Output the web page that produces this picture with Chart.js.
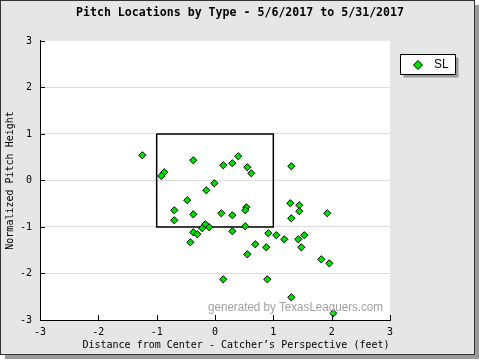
<!DOCTYPE html>
<html>
<head>
<meta charset="utf-8">
<script src="https://cdn.jsdelivr.net/npm/chart.js@4"></script>
<style>
html,body{margin:0;padding:0;background:#fff;}
#wrap{width:480px;height:360px;}
</style>
</head>
<body>
<div id="wrap"><canvas id="c" width="480" height="360"></canvas></div>
<script>
// ---- data ----
const pitchType = "SL";
const pitchX = [-1.246,-0.372,0.142,0.297,0.399,0.554,0.622,-0.869,-0.921,-0.012,
  -0.149,1.308,-0.475,-0.698,-0.372,0.108,0.297,0.537,0.519,-0.698,
  1.291,1.445,1.445,1.925,1.308,-0.166,-0.218,-0.098,0.519,-0.372,
  -0.303,0.297,-0.423,0.914,1.051,1.188,1.428,1.531,0.691,0.879,
  1.480,0.554,1.822,1.960,0.142,0.897,1.308,2.028];
const pitchY = [0.542,0.434,0.327,0.370,0.520,0.284,0.155,0.176,0.097,-0.060,
  -0.211,0.305,-0.426,-0.641,-0.727,-0.705,-0.748,-0.576,-0.641,-0.856,
  -0.490,-0.533,-0.662,-0.705,-0.813,-0.942,-1.028,-1.006,-0.985,-1.114,
  -1.157,-1.092,-1.329,-1.135,-1.178,-1.265,-1.265,-1.178,-1.372,-1.437,
  -1.437,-1.587,-1.695,-1.781,-2.125,-2.125,-2.512,-2.856];
const zoneX = [-1, 1, 1, -1, -1];
const zoneY = [1, 1, -1, -1, 1];
const xTicks = [-3, -2, -1, 0, 1, 2, 3];
const yTicks = [-3, -2, -1, 0, 1, 2, 3];
const titleText = "Pitch Locations by Type - 5/6/2017 to 5/31/2017";
const xTitle = "Distance from Center - Catcher\u2019s Perspective (feet)";
const yTitle = "Normalized Pitch Height";
const watermark = "generated by TexasLeaguers.com";

const pitchPoints = pitchX.map((x, i) => ({x: x, y: pitchY[i]}));
const zonePoints = zoneX.map((x, i) => ({x: x, y: zoneY[i]}));

const mono = "'DejaVu Sans Mono', 'Liberation Mono', monospace";

const framePlugin = {
  id: 'frame',
  beforeDraw(chart) {
    const ctx = chart.ctx, a = chart.chartArea;
    ctx.save();
    ctx.fillStyle = '#ffffff';
    ctx.fillRect(0, 0, 480, 360);
    // drop shadow
    ctx.fillStyle = '#9a9a9a';
    ctx.fillRect(5, 5, 474, 354);
    // frame
    ctx.fillStyle = '#e6e6e6';
    ctx.fillRect(0, 0, 475, 355);
    ctx.strokeStyle = '#333';
    ctx.lineWidth = 1;
    ctx.strokeRect(0.5, 0.5, 474, 354);
    // plot area
    ctx.fillStyle = '#ffffff';
    ctx.fillRect(a.left, a.top, a.right - a.left, a.bottom - a.top);
    ctx.restore();
  },
  afterDatasetsDraw(chart) {
    const ctx = chart.ctx, a = chart.chartArea;
    const xs = chart.scales.x, ys = chart.scales.y;
    ctx.save();
    // inward tick marks
    ctx.strokeStyle = '#000';
    ctx.lineWidth = 1;
    ctx.beginPath();
    xTicks.forEach(v => {
      const px = Math.round(xs.getPixelForValue(v)) + 0.5;
      ctx.moveTo(px, a.bottom);
      ctx.lineTo(px, a.bottom - 5);
    });
    yTicks.forEach(v => {
      const py = Math.round(ys.getPixelForValue(v)) + 0.5;
      ctx.moveTo(a.left, py);
      ctx.lineTo(a.left + 5, py);
    });
    ctx.stroke();
    // x axis title (centred on the frame, as in the reference)
    ctx.fillStyle = '#000';
    ctx.font = "10px " + mono;
    ctx.textAlign = 'center';
    ctx.textBaseline = 'middle';
    ctx.fillText(xTitle, 236, 345);
    // watermark
    ctx.fillStyle = '#a0a0a0';
    ctx.font = "12.5px 'Liberation Sans', Arial, sans-serif";
    ctx.textAlign = 'right';
    ctx.textBaseline = 'middle';
    ctx.fillText(watermark, a.right - 7, a.bottom - 12, 175);
    // legend box
    const lx = 400.5, ly = 54.5, lw = 55, lh = 20;
    ctx.fillStyle = '#9a9a9a';
    ctx.fillRect(lx + 3, ly + 3, lw, lh);
    ctx.fillStyle = '#fff';
    ctx.fillRect(lx, ly, lw, lh);
    ctx.strokeStyle = '#000';
    ctx.strokeRect(lx, ly, lw, lh);
    const ds = chart.data.datasets[0];
    const cx = 418, cy = 65, r = 4.5;
    ctx.beginPath();
    ctx.moveTo(cx, cy - r); ctx.lineTo(cx + r, cy); ctx.lineTo(cx, cy + r); ctx.lineTo(cx - r, cy); ctx.closePath();
    ctx.fillStyle = ds.backgroundColor;
    ctx.fill();
    ctx.strokeStyle = '#000';
    ctx.stroke();
    ctx.fillStyle = '#000';
    ctx.font = "12px 'Liberation Sans', Arial, sans-serif";
    ctx.textAlign = 'left';
    ctx.fillText(ds.label, 434, 65);
    ctx.restore();
  }
};

new Chart(document.getElementById('c'), {
  type: 'scatter',
  data: {
    datasets: [
      {
        label: pitchType,
        data: pitchPoints,
        pointStyle: 'rectRot',
        pointRadius: 3.6,
        pointHoverRadius: 3.6,
        backgroundColor: '#00e000',
        borderColor: '#000',
        borderWidth: 1
      },
      {
        label: 'zone',
        data: zonePoints,
        showLine: true,
        pointRadius: 0,
        borderColor: '#000',
        borderWidth: 1.5,
        fill: false
      }
    ]
  },
  options: {
    responsive: false,
    animation: false,
    devicePixelRatio: 1,
    layout: {padding: {left: 0, right: 0, top: 0, bottom: 0}},
    plugins: {
      legend: {display: false},
      tooltip: {enabled: false},
      title: {
        display: true,
        text: titleText,
        color: '#000',
        font: {family: mono, size: 11.6, weight: 'bold'},
        padding: {top: 6, bottom: 21}
      }
    },
    scales: {
      x: {
        type: 'linear',
        min: -3, max: 3,
        afterBuildTicks(s) { s.ticks = xTicks.map(v => ({value: v})); },
        afterFit(s) { s.height = 40; },
        ticks: {color: '#000', font: {family: mono, size: 10}, padding: 6, maxRotation: 0},
        grid: {display: true, drawOnChartArea: false, drawTicks: false},
        border: {display: true, color: '#000', width: 1},
        title: {display: false}
      },
      y: {
        type: 'linear',
        min: -3, max: 3,
        afterBuildTicks(s) { s.ticks = yTicks.map(v => ({value: v})); },
        afterFit(s) { s.width = 40; },
        ticks: {color: '#000', font: {family: mono, size: 10}, padding: 8},
        grid: {
          drawTicks: false,
          color: c => (c.tick && (c.tick.value === 3 || c.tick.value === -3)) ? 'rgba(0,0,0,0)' : '#dcdcdc'
        },
        border: {display: true, color: '#000', width: 1},
        title: {display: true, text: yTitle, color: '#000', font: {family: mono, size: 10}, padding: {top: 4, bottom: 0}}
      },
      yRight: {
        type: 'linear',
        position: 'right',
        min: -3, max: 3,
        afterFit(s) { s.width = 90; },
        ticks: {display: false},
        grid: {display: false, drawTicks: false},
        border: {display: false}
      }
    }
  },
  plugins: [framePlugin]
});
</script>
</body>
</html>
